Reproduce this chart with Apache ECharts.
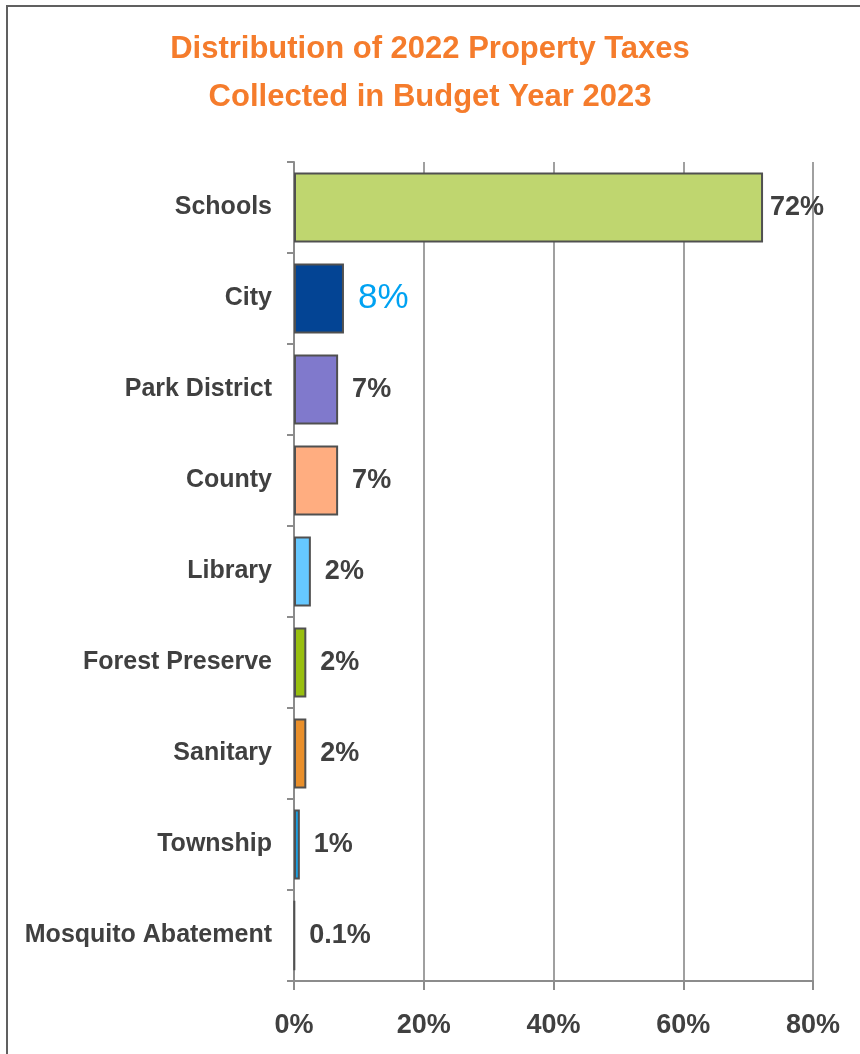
<!DOCTYPE html>
<html>
<head>
<meta charset="utf-8">
<title>Distribution of 2022 Property Taxes</title>
<script src="https://cdn.jsdelivr.net/npm/echarts@6/dist/echarts.min.js"></script>
<style>
    html, body { margin: 0; padding: 0; background: #fff; }
    #frame {
        position: absolute; left: 6px; top: 5px; right: 0; bottom: 0;
        border-left: 2px solid #606060; border-top: 2px solid #606060;
    }
    #chart { position: absolute; left: 0; top: 0; width: 860px; height: 1054px; }
</style>
</head>
<body>
<div id="frame"></div>
<div id="chart"></div>
<script>
    // categories top to bottom
    var categories = ['Schools', 'City', 'Park District', 'County', 'Library',
        'Forest Preserve', 'Sanitary', 'Township', 'Mosquito Abatement'];
    // share of taxes, percent
    var shares = [72.3, 7.7, 6.8, 6.8, 2.6, 1.9, 1.9, 0.9, 0.1];
    // printed labels
    var shareLabels = ['72%', '8%', '7%', '7%', '2%', '2%', '2%', '1%', '0.1%'];
    var barColors = ['#bfd66f', '#034494', '#8079cc', '#ffad80', '#66c8ff',
        '#98bf0f', '#e98f2a', '#1a9ee0', '#606060'];
    var xTicks = [0, 20, 40, 60, 80];

    var font = "'Liberation Sans Narrow', 'Arial Narrow', 'Liberation Sans', sans-serif";

    var chart = echarts.init(document.getElementById('chart'));

    var barData = shares.map(function (v, i) {
        var item = {
            value: v,
            itemStyle: { color: barColors[i] },
            label: { distance: i === 0 ? 7 : 14 }
        };
        if (i === 1) {
            // City is highlighted in the original
            item.label.color = '#00a2f2';
            item.label.fontSize = 35;
            item.label.fontWeight = 'normal';
        }
        return item;
    });

    chart.setOption({
        animation: false,
        title: {
            text: 'Distribution of 2022 Property Taxes\nCollected in Budget Year 2023',
            left: 'center',
            top: 20,
            textStyle: {
                color: '#f57c2c',
                fontFamily: font,
                fontWeight: 'bold',
                fontSize: 31,
                lineHeight: 48
            }
        },
        grid: {
            left: 294,
            right: 47,
            top: 162,
            bottom: 73,
            outerBoundsMode: 'none'
        },
        xAxis: {
            type: 'value',
            min: xTicks[0],
            max: xTicks[xTicks.length - 1],
            interval: 20,
            axisLine: { show: true, lineStyle: { color: '#8c8c8c', width: 2 } },
            axisTick: { show: true, length: 9, lineStyle: { color: '#8c8c8c', width: 2 } },
            splitLine: { show: true, lineStyle: { color: '#a0a0a0', width: 2 } },
            axisLabel: {
                formatter: '{value}%',
                color: '#404040',
                fontFamily: font,
                fontWeight: 'bold',
                fontSize: 27,
                margin: 31
            }
        },
        yAxis: {
            type: 'category',
            inverse: true,
            data: categories,
            axisLine: { show: true, lineStyle: { color: '#8c8c8c', width: 2 } },
            axisTick: { show: true, length: 7, lineStyle: { color: '#8c8c8c', width: 2 } },
            axisLabel: {
                color: '#404040',
                fontFamily: font,
                fontWeight: 'bold',
                fontSize: 25,
                margin: 22,
                padding: [6, 0, 0, 0]
            }
        },
        series: [{
            type: 'bar',
            data: barData,
            barCategoryGap: '23%',
            itemStyle: { borderColor: '#505050', borderWidth: 2 },
            label: {
                show: true,
                position: 'right',
                color: '#404040',
                fontFamily: font,
                fontWeight: 'bold',
                fontSize: 27,
                padding: [4, 0, 0, 0],
                formatter: function (p) { return shareLabels[p.dataIndex]; }
            }
        }]
    });
</script>
</body>
</html>
